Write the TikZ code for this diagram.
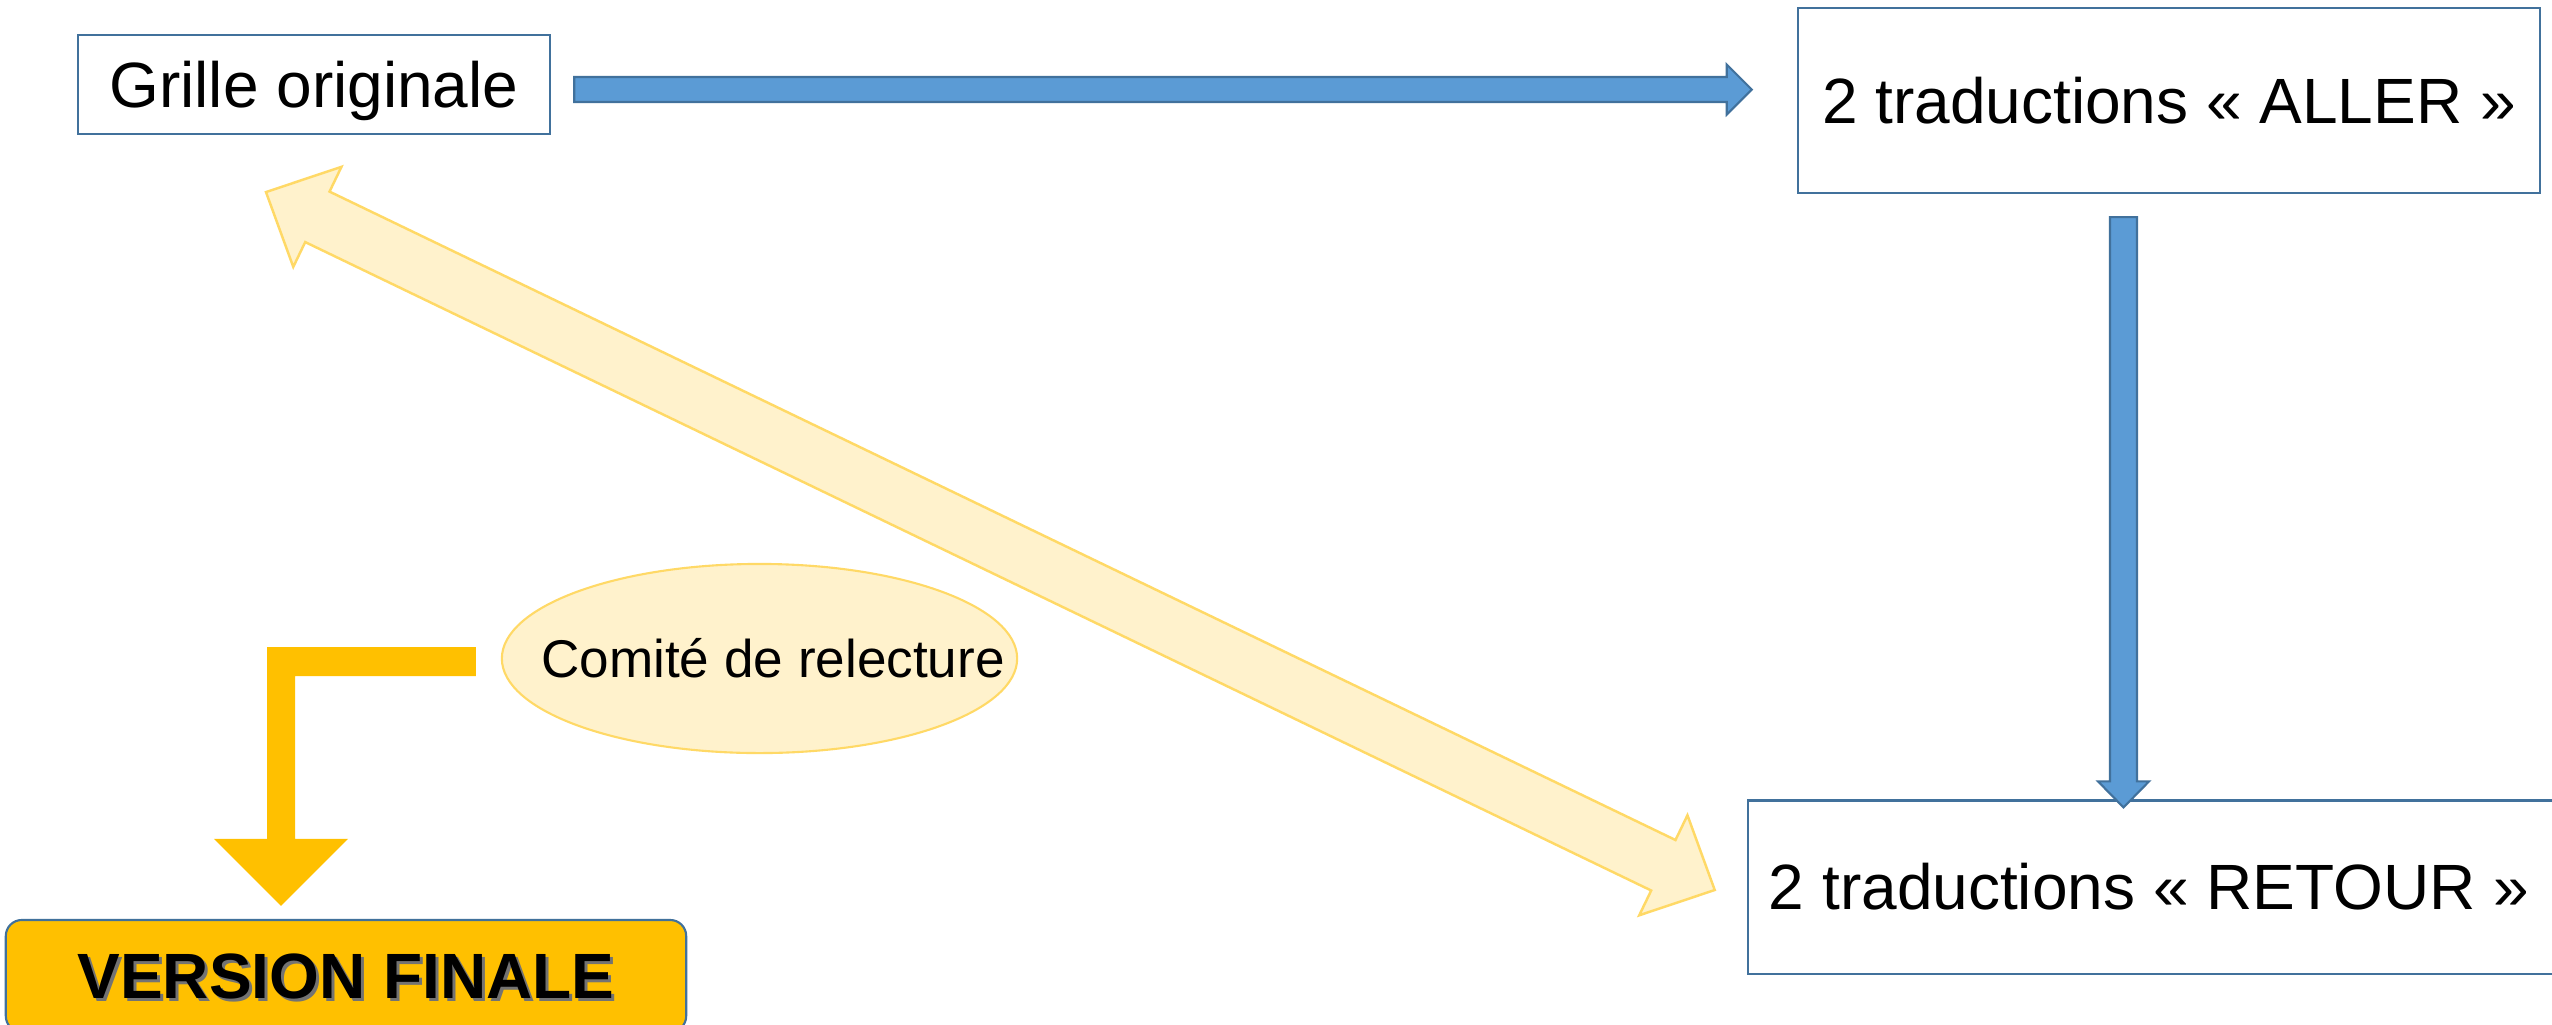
\documentclass[tikz,border=0pt]{standalone}
\usepackage{fontspec}
\setmainfont{Liberation Sans}
\usetikzlibrary{calc,shapes.geometric}

\definecolor{boxline}{HTML}{41719C}
\definecolor{bluefill}{HTML}{5B9BD5}
\definecolor{yellowfill}{HTML}{FFF2CC}
\definecolor{yellowline}{HTML}{FFD966}
\definecolor{goldfill}{HTML}{FFC000}

% block arrow with one head: style, from, to, shaft half-width, head half-width, head length
\newcommand{\singleblockarrow}[6]{%
  \coordinate (sba-h) at ($(#3)!#6!(#2)$);
  \path[#1] ($(#2)!#4!90:(#3)$) -- ($(sba-h)!#4!90:(#3)$) -- ($(sba-h)!#5!90:(#3)$) -- (#3)
    -- ($(sba-h)!#5!-90:(#3)$) -- ($(sba-h)!#4!-90:(#3)$) -- ($(#2)!#4!-90:(#3)$) -- cycle;}

% block arrow with a head at both ends
\newcommand{\doubleblockarrow}[6]{%
  \coordinate (dba-p) at ($(#2)!#6!(#3)$);
  \coordinate (dba-q) at ($(#3)!#6!(#2)$);
  \path[#1] (#2) -- ($(dba-p)!#5!90:(#3)$) -- ($(dba-p)!#4!90:(#3)$) -- ($(dba-q)!#4!90:(#3)$)
    -- ($(dba-q)!#5!90:(#3)$) -- (#3) -- ($(dba-q)!#5!-90:(#3)$) -- ($(dba-q)!#4!-90:(#3)$)
    -- ($(dba-p)!#4!-90:(#3)$) -- ($(dba-p)!#5!-90:(#3)$) -- cycle;}

\begin{document}
\begin{tikzpicture}[x=0.01cm, y=-0.01cm,
  stepbox/.style={draw=boxline, line width=0.6pt, fill=white, inner sep=0pt,
    font=\fontsize{18.2pt}{22pt}\selectfont, text height=13pt, text depth=0pt},
  bluearrow/.style={fill=bluefill, draw=boxline, line width=0.6pt, line join=miter},
  yellowarrow/.style={fill=yellowfill, draw=yellowline, line width=0.7pt, line join=miter},
  goldarrow/.style={fill=goldfill},
  comitebubble/.style={ellipse, draw=yellowline, fill=yellowfill, line width=0.6pt, inner sep=0pt},
  finalbox/.style={draw=boxline, line width=0.6pt, fill=goldfill, rounded corners=0.16cm, inner sep=0pt},
  finaltext/.style={font=\fontsize{18.2pt}{22pt}\selectfont\bfseries, text height=13pt, text depth=0pt, inner sep=0pt}]

\fill[white] (0,0) rectangle (2552,1024);
\useasboundingbox (0,0) rectangle (2552,1024);

% boxes
\node[stepbox, minimum width=4.72cm, minimum height=0.99cm] (grille) at (314,84.5) {Grille originale};
\node[stepbox, minimum width=7.42cm, minimum height=1.85cm] (aller) at (2169,100.5) {2 traductions « ALLER »};
\node[stepbox, minimum width=8.12cm, minimum height=1.73cm] (retour) at (2154,887) {\hspace*{-0.08cm}2 traductions « RETOUR »\hspace*{0.02cm}};

% review committee
\node[comitebubble, minimum width=5.15cm, minimum height=1.89cm] (comite) at (759.5,658.5) {};
\node[inner sep=0pt, font=\fontsize{15.1pt}{18pt}\selectfont, text height=10.8pt, text depth=0pt] (comitetext) at (773,658) {Comité de relecture};

% final version
\node[finalbox, minimum width=6.8cm, minimum height=1.12cm] (finale) at (346,976) {};
\node[finaltext, text=black!55] (finaleshadow) at ($(finale.center)+(3,3)$) {VERSION FINALE};
\node[finaltext] (finaletext) at (finale.center) {VERSION FINALE};

% blue flow arrows
\coordinate (h1) at ($(grille.east)+(23,5)$);
\coordinate (h2) at ($(aller.west)+(-45,-11)$);
\singleblockarrow{bluearrow}{h1}{h2}{1.25mm}{2.5mm}{2.5mm}

\coordinate (v1) at ($(aller.south)+(-45.5,23)$);
\coordinate (v2) at ($(retour.north)+(-30.5,8)$);
\singleblockarrow{bluearrow}{v1}{v2}{1.35mm}{2.55mm}{2.6mm}

% comparison between original and back translations
\coordinate (y1) at ($(grille.south)+(-48,57)$);
\coordinate (y2) at ($(retour.west)+(-32,3)$);
\doubleblockarrow{yellowarrow}{y1}{y2}{2.8mm}{5.55mm}{5.7mm}

% committee to final version
\coordinate (e1) at ($(comite.west)+(-25,3)$);
\coordinate (e2) at ($(finale.north)+(-65,-13)$);
\path[goldarrow] ($(e1)+(0,-14.5)$) -- ($(e2|-e1)+(-14,-14.5)$) -- ($(e2)+(-14,-67)$)
  -- ($(e2)+(-67,-67)$) -- (e2) -- ($(e2)+(67,-67)$) -- ($(e2)+(14,-67)$)
  -- ($(e2|-e1)+(14,14.5)$) -- ($(e1)+(0,14.5)$) -- cycle;

\end{tikzpicture}
\end{document}
